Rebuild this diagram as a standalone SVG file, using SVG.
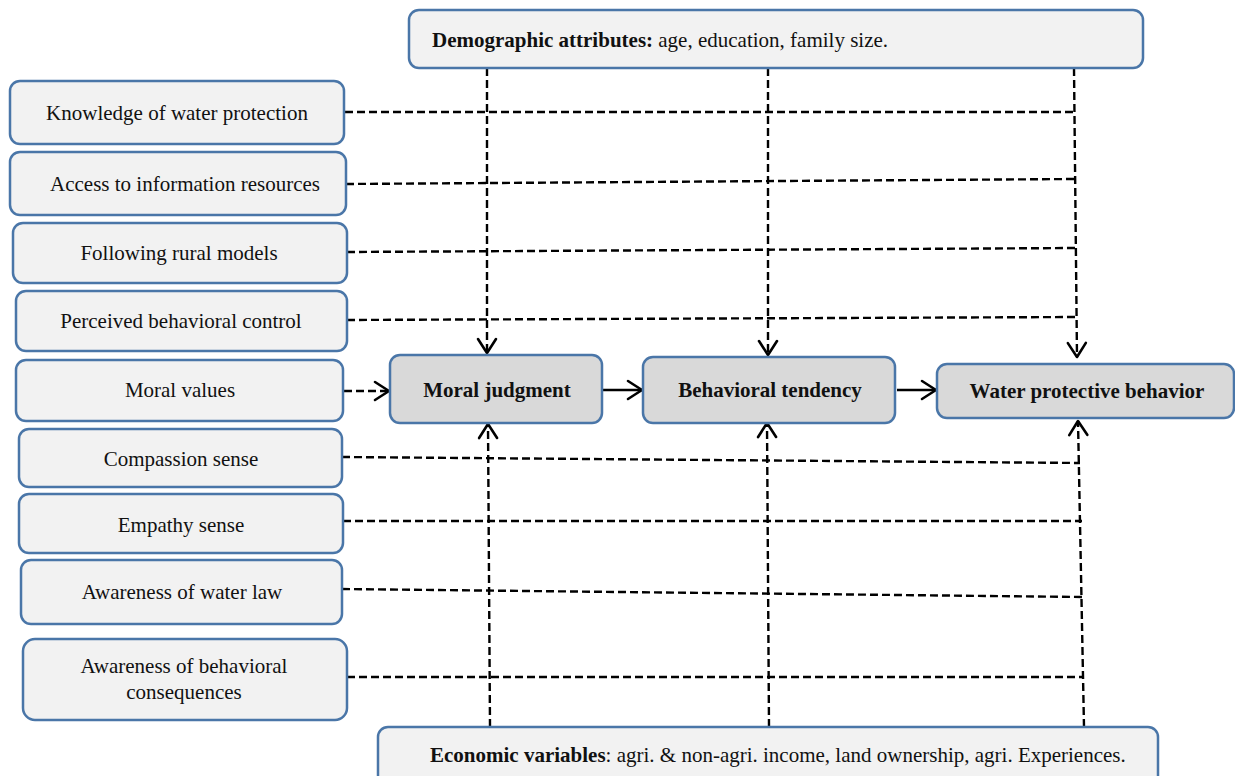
<svg xmlns="http://www.w3.org/2000/svg" width="1235" height="776" viewBox="0 0 1235 776">
<style>
.box{fill:#f2f2f2;stroke:#4a76a8;stroke-width:2.5}
.core{fill:#d9d9d9;stroke:#4a76a8;stroke-width:2.5}
text{font-family:"Liberation Serif","Times New Roman",serif;font-size:21px;fill:#111}
.c{text-anchor:middle}
.b{font-weight:bold}
.d{stroke:#000;stroke-width:2.4;stroke-dasharray:8 4;fill:none}
.s{stroke:#000;stroke-width:2.4;fill:none}
.ah{stroke:#000;stroke-width:2.6;fill:none;stroke-linecap:round;stroke-linejoin:round}
</style>
<defs>
<marker id="arr" viewBox="-16 -11 18 22" markerWidth="18" markerHeight="22" refX="0" refY="0" orient="auto" markerUnits="userSpaceOnUse">
<path class="ah" d="M-14,-9 L0,0 L-14,9"/>
</marker>
</defs>
<g id="connectors">
<line class="d" x1="345" y1="112" x2="1075" y2="112"/>
<line class="d" x1="346" y1="184" x2="1075" y2="179"/>
<line class="d" x1="347" y1="252" x2="1076" y2="248"/>
<line class="d" x1="347" y1="320" x2="1077" y2="317"/>
<line class="d" x1="342" y1="457" x2="1080" y2="463"/>
<line class="d" x1="343" y1="521" x2="1082" y2="521"/>
<line class="d" x1="342" y1="589" x2="1082" y2="597"/>
<line class="d" x1="347" y1="677" x2="1084" y2="677"/>
<line class="d" x1="487" y1="68" x2="487" y2="353" marker-end="url(#arr)"/>
<line class="d" x1="768" y1="68" x2="768" y2="355" marker-end="url(#arr)"/>
<line class="d" x1="1074" y1="68" x2="1077" y2="357" marker-end="url(#arr)"/>
<line class="d" x1="490" y1="727" x2="488" y2="424" marker-end="url(#arr)"/>
<line class="d" x1="769" y1="727" x2="767" y2="423" marker-end="url(#arr)"/>
<line class="d" x1="1084" y1="727" x2="1078" y2="421" marker-end="url(#arr)"/>
<line class="d" x1="344" y1="391" x2="389" y2="391" marker-end="url(#arr)"/>
<line class="s" x1="603" y1="390" x2="642" y2="390" marker-end="url(#arr)"/>
<line class="s" x1="897" y1="390" x2="936" y2="390" marker-end="url(#arr)"/>
</g>
<g id="demographic">
<rect class="box" x="409" y="10" width="734" height="58" rx="10"/>
<text x="432" y="47"><tspan class="b">Demographic attributes:</tspan> age, education, family size.</text>
</g>
<g id="economic">
<rect class="box" x="378" y="727" width="780" height="70" rx="10"/>
<text x="430" y="762"><tspan class="b">Economic variables</tspan>: agri. &amp; non-agri. income, land ownership, agri. Experiences.</text>
</g>
<g id="knowledge">
<rect class="box" x="10" y="81" width="334" height="63" rx="10"/>
<text class="c" x="177" y="120">Knowledge of water protection</text>
</g>
<g id="access">
<rect class="box" x="10" y="152" width="336" height="63" rx="10"/>
<text class="c" x="185" y="191">Access to information resources</text>
</g>
<g id="rural-models">
<rect class="box" x="13" y="223" width="334" height="60" rx="10"/>
<text class="c" x="179" y="260">Following rural models</text>
</g>
<g id="perceived-control">
<rect class="box" x="16" y="291" width="331" height="60" rx="10"/>
<text class="c" x="181" y="328">Perceived behavioral control</text>
</g>
<g id="moral-values">
<rect class="box" x="16" y="360" width="327" height="61" rx="10"/>
<text class="c" x="180" y="397">Moral values</text>
</g>
<g id="compassion">
<rect class="box" x="19" y="429" width="323" height="58" rx="10"/>
<text class="c" x="181" y="466">Compassion sense</text>
</g>
<g id="empathy">
<rect class="box" x="19" y="494" width="324" height="59" rx="10"/>
<text class="c" x="181" y="532">Empathy sense</text>
</g>
<g id="water-law">
<rect class="box" x="21" y="560" width="321" height="64" rx="10"/>
<text class="c" x="182" y="599">Awareness of water law</text>
</g>
<g id="consequences">
<rect class="box" x="23" y="639" width="324" height="81" rx="12"/>
<text class="c" x="184" y="673">Awareness of behavioral</text>
<text class="c" x="184" y="699">consequences</text>
</g>
<g id="moral-judgment">
<rect class="core" x="390" y="355" width="212" height="68" rx="10"/>
<text class="c b" x="497" y="397">Moral judgment</text>
</g>
<g id="behavioral-tendency">
<rect class="core" x="643" y="357" width="252" height="66" rx="10"/>
<text class="c b" x="770" y="397">Behavioral tendency</text>
</g>
<g id="water-behavior">
<rect class="core" x="937" y="364" width="297" height="54" rx="10"/>
<text class="c b" x="1087" y="398">Water protective behavior</text>
</g>
</svg>
